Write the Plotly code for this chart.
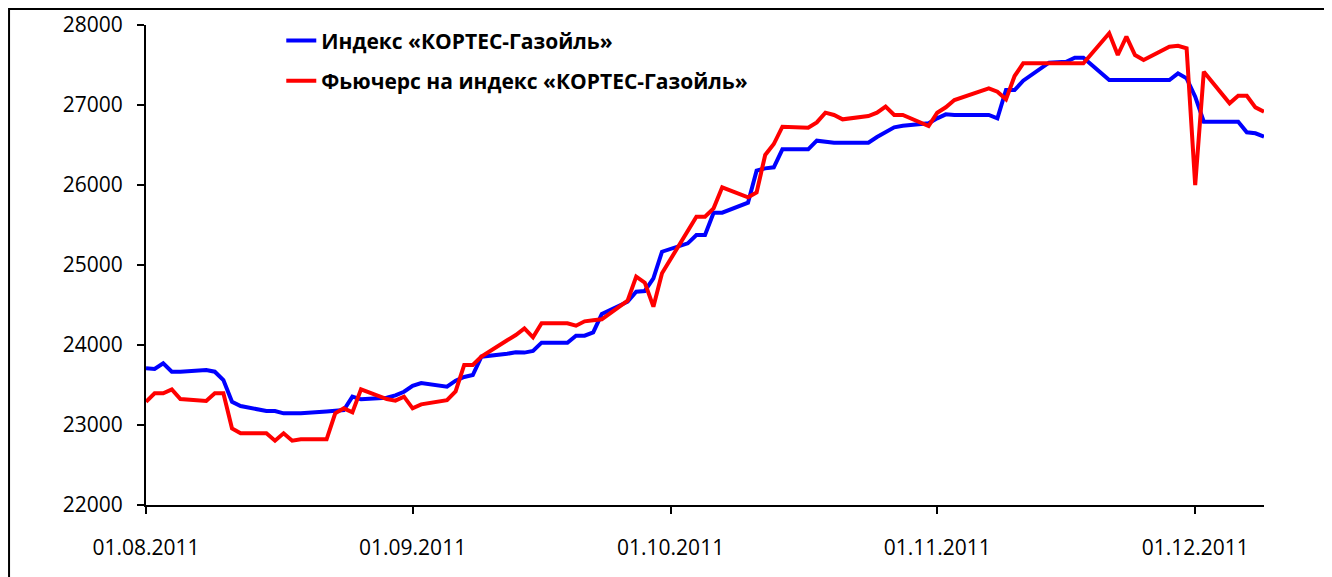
import plotly.graph_objects as go

# ---- data ----
index_dates = [
    "2011-08-01", "2011-08-02", "2011-08-03", "2011-08-04", "2011-08-05",
    "2011-08-08", "2011-08-09", "2011-08-10", "2011-08-11", "2011-08-12",
    "2011-08-15", "2011-08-16", "2011-08-17", "2011-08-18", "2011-08-19",
    "2011-08-22", "2011-08-23", "2011-08-24", "2011-08-25", "2011-08-26",
    "2011-08-29", "2011-08-30", "2011-08-31", "2011-09-01", "2011-09-02",
    "2011-09-05", "2011-09-06", "2011-09-07", "2011-09-08", "2011-09-09",
    "2011-09-12", "2011-09-13", "2011-09-14", "2011-09-15", "2011-09-16",
    "2011-09-19", "2011-09-20", "2011-09-21", "2011-09-22", "2011-09-23",
    "2011-09-26", "2011-09-27", "2011-09-28", "2011-09-29", "2011-09-30",
    "2011-10-03", "2011-10-04", "2011-10-05", "2011-10-06", "2011-10-07",
    "2011-10-10", "2011-10-11", "2011-10-12", "2011-10-13", "2011-10-14",
    "2011-10-17", "2011-10-18", "2011-10-19", "2011-10-20", "2011-10-21",
    "2011-10-24", "2011-10-25", "2011-10-26", "2011-10-27", "2011-10-28",
    "2011-10-31", "2011-11-01", "2011-11-02", "2011-11-03",
    "2011-11-07", "2011-11-08", "2011-11-09", "2011-11-10", "2011-11-11",
    "2011-11-14", "2011-11-15", "2011-11-16", "2011-11-17", "2011-11-18",
    "2011-11-21", "2011-11-22", "2011-11-23", "2011-11-24", "2011-11-25",
    "2011-11-28", "2011-11-29", "2011-11-30", "2011-12-01", "2011-12-02",
    "2011-12-05", "2011-12-06", "2011-12-07", "2011-12-08", "2011-12-09",
]
index_values = [
    23710, 23700, 23771, 23666, 23666,
    23687, 23666, 23562, 23291, 23237,
    23175, 23175, 23146, 23146, 23146,
    23170, 23180, 23187, 23354, 23321,
    23340, 23370, 23416, 23490, 23525,
    23479, 23554, 23600, 23625, 23854,
    23890, 23910, 23905, 23925, 24029,
    24029, 24117, 24117, 24158, 24387,
    24541, 24666, 24675, 24833, 25166,
    25271, 25375, 25375, 25654, 25654,
    25779, 26179, 26208, 26221, 26446,
    26446, 26554, 26540, 26529, 26529,
    26529, 26600, 26666, 26721, 26741,
    26771, 26833, 26883, 26875,
    26875, 26833, 27187, 27187, 27304,
    27529, 27535, 27541, 27591, 27591,
    27312, 27312, 27312, 27312, 27312,
    27312, 27396, 27333, 27104, 26791,
    26791, 26791, 26658, 26646, 26604,
]

futures_dates = index_dates
futures_values = [
    23291, 23396, 23396, 23446, 23325,
    23300, 23396, 23396, 22958, 22896,
    22896, 22804, 22896, 22804, 22821,
    22821, 23146, 23208, 23158, 23446,
    23325, 23304, 23354, 23208, 23258,
    23310, 23420, 23750, 23750, 23854,
    24060, 24125, 24208, 24096, 24271,
    24271, 24241, 24296, 24310, 24321,
    24554, 24854, 24779, 24479, 24896,
    25430, 25604, 25604, 25708, 25971,
    25846, 25908, 26375, 26512, 26729,
    26716, 26783, 26904, 26875, 26821,
    26862, 26904, 26979, 26875, 26875,
    26737, 26904, 26971, 27062,
    27208, 27166, 27071, 27362, 27521,
    27521, 27521, 27521, 27521, 27521,
    27896, 27625, 27854, 27625, 27562,
    27729, 27741, 27708, 26000, 27416,
    27021, 27116, 27116, 26971, 26916,
]

series_names = ["Индекс «КОРТЕС-Газойль»", "Фьючерс на индекс «КОРТЕС-Газойль»"]
tick_dates = ["2011-08-01", "2011-09-01", "2011-10-01", "2011-11-01", "2011-12-01"]
tick_labels = ["01.08.2011", "01.09.2011", "01.10.2011", "01.11.2011", "01.12.2011"]
y_ticks = [22000, 23000, 24000, 25000, 26000, 27000, 28000]
y_labels = ["22000", "23000", "24000", "25000", "26000", "27000", "28000"]

FONT = "Open Sans, Noto Sans, DejaVu Sans, sans-serif"

fig = go.Figure()
fig.add_trace(go.Scatter(
    x=index_dates, y=index_values, mode="lines", name=series_names[0],
    legendgroup="a", line=dict(color="#0000FF", width=4),
))
fig.add_trace(go.Scatter(
    x=futures_dates, y=futures_values, mode="lines", name=series_names[1],
    legendgroup="b", line=dict(color="#FF0000", width=4),
))

fig.update_layout(
    width=1324, height=569,
    margin=dict(l=138, r=68, t=17, b=72, pad=0, autoexpand=False),
    paper_bgcolor="white", plot_bgcolor="white",
    font=dict(family=FONT, size=21, color="#000000"),
    showlegend=True,
    legend=dict(
        x=0.121, y=1.0096, xanchor="left", yanchor="top",
        bgcolor="rgba(0,0,0,0)", borderwidth=0,
        font=dict(family=FONT, size=21, color="#000000", weight="bold"),
        itemwidth=30, traceorder="grouped", tracegroupgap=10,
    ),
    xaxis=dict(
        type="date", range=["2011-08-01", "2011-12-09"], automargin=False,
        tickmode="array", tickvals=tick_dates, ticktext=tick_labels,
        showgrid=False, zeroline=False,
        showline=True, linecolor="#000000", linewidth=2,
        ticks="outside", ticklen=7, tickwidth=2, tickcolor="#000000",
        ticklabelstandoff=16,
        tickfont=dict(family=FONT, size=21, color="#000000"),
    ),
    yaxis=dict(
        range=[22000, 28000], automargin=False,
        tickmode="array", tickvals=y_ticks, ticktext=y_labels,
        showgrid=False, zeroline=False,
        showline=True, linecolor="#000000", linewidth=2,
        ticks="outside", ticklen=7, tickwidth=2, tickcolor="#000000",
        ticklabelstandoff=10,
        tickfont=dict(family=FONT, size=21, color="#000000"),
    ),
    shapes=[
        dict(type="rect", xref="paper", yref="paper",
             x0=-0.1225, x1=1.2, y0=-0.3, y1=1.0333,
             line=dict(color="#000000", width=2), fillcolor="rgba(0,0,0,0)",
             layer="below"),
    ],
)

fig.write_html("out.html")
